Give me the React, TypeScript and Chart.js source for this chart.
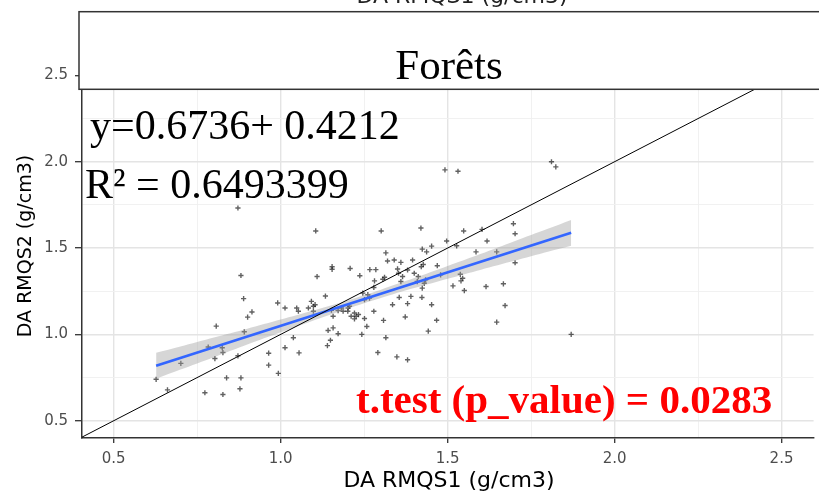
import { useEffect, useRef } from "react";
import { Chart, registerables } from "chart.js";

Chart.register(...registerables);

// ---- data ----
const pointsX = [
  0.872, 1.105, 0.881, 1.109, 1.154, 1.154, 1.208, 1.237, 1.267, 1.285,
  1.281, 1.134, 0.889, 0.991, 1.013, 0.914, 0.901, 1.048, 1.053, 1.083,
  1.098, 1.098, 1.092, 1.103, 0.807, 0.891, 0.825, 0.827, 0.803, 0.783,
  0.701, 0.627, 0.661, 0.773, 0.827, 0.838, 0.881, 0.878, 0.872, 0.964,
  0.964, 0.993, 1.013, 1.038, 1.055, 1.142, 1.157, 1.172, 1.149, 1.140,
  1.243, 1.258, 1.251, 1.279, 1.291, 1.492, 1.531, 1.811, 1.824, 1.301,
  1.420, 1.548, 1.603, 1.697, 1.702, 1.618, 1.497, 1.527, 1.452, 1.424,
  1.437, 1.315, 1.320, 1.340, 1.360, 1.395, 1.427, 1.421, 1.400, 1.380,
  1.469, 1.585, 1.647, 1.702, 1.311, 1.306, 1.350, 1.353, 1.279, 1.365,
  1.360, 1.412, 1.409, 1.430, 1.424, 1.479, 1.538, 1.545, 1.540, 1.516,
  1.550, 1.615, 1.667, 1.672, 1.647, 1.870, 1.152, 1.157, 1.182, 1.201,
  1.206, 1.211, 1.226, 1.221, 1.233, 1.246, 1.261, 1.251, 1.266, 1.308,
  1.335, 1.355, 1.380, 1.390, 1.423, 1.373, 1.315, 1.348, 1.380, 1.442,
  1.467, 1.452, 1.172, 1.187, 1.202, 1.221, 1.434,
];
const pointsY = [
  1.732, 1.599, 1.341, 1.335, 1.392, 1.377, 1.382, 1.340, 1.375, 1.375,
  1.310, 1.222, 1.207, 1.182, 1.153, 1.130, 1.100, 1.153, 1.134, 1.153,
  1.163, 1.134, 1.191, 1.172, 1.048, 1.015, 0.923, 0.895, 0.860, 0.927,
  0.832, 0.740, 0.679, 0.662, 0.652, 0.748, 0.748, 0.685, 0.876, 0.891,
  0.822, 0.774, 0.923, 0.981, 0.893, 1.023, 1.038, 1.004, 0.966, 0.935,
  1.000, 1.046, 1.092, 1.134, 0.895, 1.953, 1.945, 2.000, 1.970, 1.599,
  1.616, 1.599, 1.608, 1.641, 1.583, 1.541, 1.541, 1.513, 1.511, 1.494,
  1.478, 1.472, 1.425, 1.431, 1.417, 1.431, 1.405, 1.392, 1.354, 1.373,
  1.398, 1.478, 1.478, 1.415, 1.331, 1.319, 1.379, 1.354, 1.272, 1.335,
  1.306, 1.335, 1.306, 1.296, 1.268, 1.345, 1.348, 1.325, 1.310, 1.281,
  1.254, 1.277, 1.293, 1.167, 1.071, 1.000, 1.140, 1.105, 1.153, 1.134,
  1.163, 1.105, 1.105, 1.090, 1.115, 1.239, 1.230, 1.201, 1.210, 1.081,
  1.172, 1.214, 1.178, 1.220, 1.214, 1.101, 0.981, 0.870, 0.853, 1.019,
  1.082, 1.172, 1.138, 1.134, 1.153, 1.124, 1.316,
];

const fitX = [0.627, 1.87];
const fitY = [0.818, 1.589];

const bandX = [0.627, 0.7, 0.8, 0.9, 1.0, 1.1, 1.2, 1.3, 1.4, 1.5, 1.6, 1.7, 1.8, 1.87];
const bandLower = [0.743, 0.796, 0.868, 0.941, 1.012, 1.082, 1.149, 1.211, 1.268, 1.322, 1.375, 1.426, 1.478, 1.513];
const bandUpper = [0.893, 0.930, 0.982, 1.033, 1.086, 1.140, 1.197, 1.259, 1.326, 1.396, 1.467, 1.540, 1.612, 1.663];

const identityX = [0.4, 2.6];
const identityY = [0.4, 2.6];

const xTickValues = [0.5, 0.75, 1.0, 1.25, 1.5, 1.75, 2.0, 2.25, 2.5];
const yTickValues = [0.5, 0.75, 1.0, 1.25, 1.5, 1.75, 2.0, 2.25, 2.5, 2.75];
const majorTicks = [0.5, 1.0, 1.5, 2.0, 2.5];

const stripLabel = "Forêts";
const equationText = "y=0.6736+ 0.4212";
const r2Text = "R² = 0.6493399";
const testText = "t.test (p_value) = 0.0283";
const xTitle = "DA RMQS1 (g/cm3)";
const yTitle = "DA RMQS2 (g/cm3)";

const X_MIN = 0.405, X_MAX = 2.596, Y_MIN = 0.4, Y_MAX = 2.844;

const isMajor = (v: number) => majorTicks.some((m) => Math.abs(m - v) < 1e-6);

const overlay = {
  id: "overlay",
  afterDraw(chart: any) {
    const ctx = chart.ctx as CanvasRenderingContext2D;
    ctx.save();
    // partial title of the chart above
    ctx.fillStyle = "#222";
    ctx.font = '22px "DejaVu Sans"';
    ctx.textAlign = "center";
    ctx.textBaseline = "alphabetic";
    ctx.fillText(xTitle, 462, 3);

    // facet strip
    ctx.fillStyle = "#ffffff";
    ctx.fillRect(79, 11.7, 760, 77.6);
    ctx.strokeStyle = "#333333";
    ctx.lineWidth = 1.5;
    ctx.strokeRect(79, 11.7, 760, 77.6);
    ctx.fillStyle = "#000";
    ctx.font = '43px "Liberation Serif"';
    ctx.textAlign = "center";
    ctx.fillText(stripLabel, 449, 79);

    // annotations
    ctx.textAlign = "left";
    ctx.font = '42px "Liberation Serif"';
    ctx.fillText(equationText, 90, 139);
    ctx.fillText(r2Text, 85, 198);
    ctx.fillStyle = "#ff0000";
    ctx.font = 'bold 41px "Liberation Serif"';
    ctx.fillText(testText, 356, 412.5);

    // axis titles
    ctx.fillStyle = "#000";
    ctx.font = '22px "DejaVu Sans"';
    ctx.textAlign = "center";
    ctx.fillText(xTitle, 449, 486.5);
    ctx.translate(31, 246);
    ctx.rotate(-Math.PI / 2);
    ctx.font = '19px "DejaVu Sans"';
    ctx.fillText(yTitle, 0, 0);
    ctx.restore();
  },
};

export default function App() {
  const ref = useRef<HTMLCanvasElement | null>(null);
  useEffect(() => {
    document.body.style.margin = "0";
    const canvas = ref.current!;
    const scatter = pointsX.map((x, i) => ({ x, y: pointsY[i] }));
    const tickFont = { family: '"DejaVu Sans"', size: 15 };
    const axisCommon = (tl: number, values: number[], pad: number) => ({
      type: "linear" as const,
      afterBuildTicks: (s: any) => {
        s.ticks = values.map((v) => ({ value: v }));
      },
      ticks: {
        color: "#4d4d4d",
        font: tickFont,
        padding: pad,
        callback: (v: any) => (isMajor(Number(v)) ? Number(v).toFixed(1) : ""),
        autoSkip: false,
        maxRotation: 0,
      },
      grid: {
        color: (c: any) => (c.tick && isMajor(c.tick.value) ? "#e4e4e4" : "#efefef"),
        lineWidth: (c: any) => (c.tick && isMajor(c.tick.value) ? 1.4 : 0.9),
        tickColor: (c: any) => (c.tick && isMajor(c.tick.value) ? "#333333" : "rgba(0,0,0,0)"),
        tickWidth: 1.3,
        tickLength: tl,
      },
      border: { display: true, color: "#333333", width: 1.5 },
    });
    const chart = new Chart(canvas, {
      type: "scatter",
      data: {
        datasets: [
          {
            type: "line",
            data: identityX.map((x, i) => ({ x, y: identityY[i] })),
            borderColor: "#000000",
            borderWidth: 1,
            pointRadius: 0,
            fill: false,
          },
          {
            type: "line",
            data: fitX.map((x, i) => ({ x, y: fitY[i] })),
            borderColor: "#3366FF",
            borderWidth: 2.6,
            pointRadius: 0,
            fill: false,
          },
          {
            type: "line",
            data: bandX.map((x, i) => ({ x, y: bandUpper[i] })),
            borderWidth: 0,
            borderColor: "rgba(0,0,0,0)",
            backgroundColor: "rgba(153,153,153,0.4)",
            pointRadius: 0,
            tension: 0.3,
            fill: "+1",
          },
          {
            type: "line",
            data: bandX.map((x, i) => ({ x, y: bandLower[i] })),
            borderWidth: 0,
            borderColor: "rgba(0,0,0,0)",
            pointRadius: 0,
            tension: 0.3,
            fill: false,
          },
          {
            data: scatter,
            pointStyle: "cross",
            pointRadius: 2.6,
            pointBorderWidth: 1.4,
            pointBorderColor: "rgba(0,0,0,0.62)",
            pointBackgroundColor: "rgba(0,0,0,0.62)",
            borderColor: "rgba(0,0,0,0.62)",
          },
        ] as any,
      },
      options: {
        animation: false,
        responsive: false,
        devicePixelRatio: 1,
        layout: { padding: { top: 12, left: 0, right: 0, bottom: 0 } },
        plugins: { legend: { display: false }, tooltip: { enabled: false } },
        scales: {
          x: {
            ...axisCommon(5, xTickValues, 7),
            min: X_MIN,
            max: X_MAX,
            afterFit: (s: any) => {
              s.height = 54;
            },
          },
          y: {
            ...axisCommon(7, yTickValues, 7),
            min: Y_MIN,
            max: Y_MAX,
            afterFit: (s: any) => {
              s.width = 82;
            },
          },
        } as any,
      },
      plugins: [overlay],
    });
    return () => chart.destroy();
  }, []);
  return (
    <div style={{ width: 819, height: 492 }}>
      <canvas ref={ref} width={819} height={492} style={{ display: "block" }} />
    </div>
  );
}
